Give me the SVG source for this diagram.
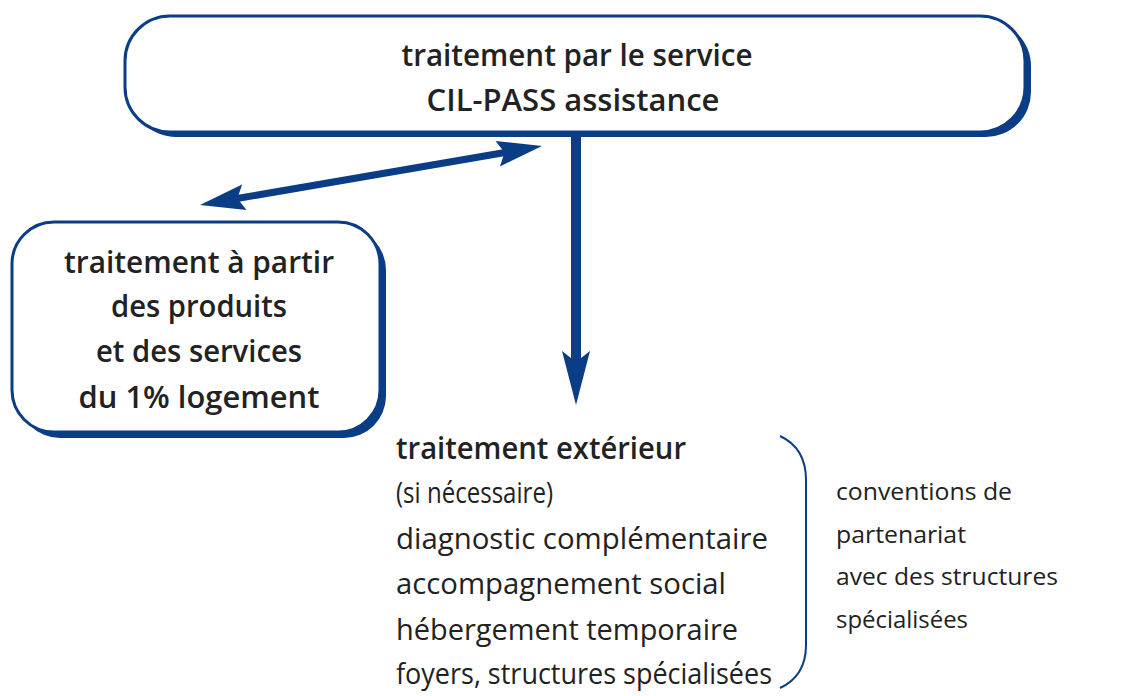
<svg xmlns="http://www.w3.org/2000/svg" width="1143" height="696" viewBox="0 0 1143 696">
<style>
.shadow{fill:#0a3d85}
.box{fill:#fff;stroke:#0a3d85;stroke-width:3}
.b{font-family:"Open Sans","Liberation Sans",sans-serif;font-weight:600;fill:#222}
.r{font-family:"Open Sans","Liberation Sans",sans-serif;font-weight:400;fill:#222}
.line{stroke:#0a3d85;fill:none}
.head{fill:#0a3d85}
</style>
<rect width="1143" height="696" fill="#fff"/>
<g id="connectors">
<line class="line" x1="237" y1="198.5" x2="505" y2="152.5" stroke-width="7"/>
<polygon class="head" points="200,205 246.5,210.1 237.4,198.5 242.1,184.5"/>
<polygon class="head" points="542,146 495.5,140.9 504.6,152.5 499.9,166.5"/>
<line class="line" x1="576" y1="134" x2="576" y2="365" stroke-width="10"/>
<polygon class="head" points="576,405 562,351 576,362 590,351"/>
</g>
<g id="node-top">
<rect class="shadow" x="131" y="21" width="900" height="116" rx="45"/>
<rect class="box" x="125" y="16" width="900" height="116" rx="45"/>
<text class="b" x="577" y="66" font-size="30" text-anchor="middle" textLength="351" lengthAdjust="spacingAndGlyphs">traitement par le service</text>
<text class="b" x="573" y="111" font-size="30" text-anchor="middle" textLength="293" lengthAdjust="spacingAndGlyphs">CIL-PASS assistance</text>
</g>
<g id="node-left">
<rect class="shadow" x="18" y="228" width="368" height="210" rx="42"/>
<rect class="box" x="12" y="222" width="368" height="210" rx="42"/>
<text class="b" x="199" y="273" font-size="30" text-anchor="middle" textLength="270" lengthAdjust="spacingAndGlyphs">traitement à partir</text>
<text class="b" x="199" y="317" font-size="30" text-anchor="middle" textLength="176" lengthAdjust="spacingAndGlyphs">des produits</text>
<text class="b" x="199" y="362" font-size="30" text-anchor="middle" textLength="206" lengthAdjust="spacingAndGlyphs">et des services</text>
<text class="b" x="199" y="408" font-size="30" text-anchor="middle" textLength="241" lengthAdjust="spacingAndGlyphs">du 1% logement</text>
</g>
<g id="node-exterieur">
<text class="b" x="396" y="459" font-size="30" textLength="290" lengthAdjust="spacingAndGlyphs">traitement extérieur</text>
<text class="r" x="396" y="503" font-size="30" textLength="157" lengthAdjust="spacingAndGlyphs">(si nécessaire)</text>
<text class="r" x="396" y="549" font-size="30" textLength="372" lengthAdjust="spacingAndGlyphs">diagnostic complémentaire</text>
<text class="r" x="396" y="594" font-size="30" textLength="330" lengthAdjust="spacingAndGlyphs">accompagnement social</text>
<text class="r" x="396" y="640" font-size="30" textLength="342" lengthAdjust="spacingAndGlyphs">hébergement temporaire</text>
<text class="r" x="396" y="684" font-size="30" textLength="376" lengthAdjust="spacingAndGlyphs">foyers, structures spécialisées</text>
</g>
<g id="bracket">
<path class="line" stroke-width="2" d="M780,436 Q806,448 806,480 L806,645 Q806,676 780,688"/>
</g>
<g id="node-conventions">
<text class="r" x="836" y="500" font-size="24" textLength="176" lengthAdjust="spacingAndGlyphs">conventions de</text>
<text class="r" x="836" y="543" font-size="24" textLength="130" lengthAdjust="spacingAndGlyphs">partenariat</text>
<text class="r" x="836" y="585" font-size="24" textLength="222" lengthAdjust="spacingAndGlyphs">avec des structures</text>
<text class="r" x="836" y="628" font-size="24" textLength="132" lengthAdjust="spacingAndGlyphs">spécialisées</text>
</g>
</svg>
